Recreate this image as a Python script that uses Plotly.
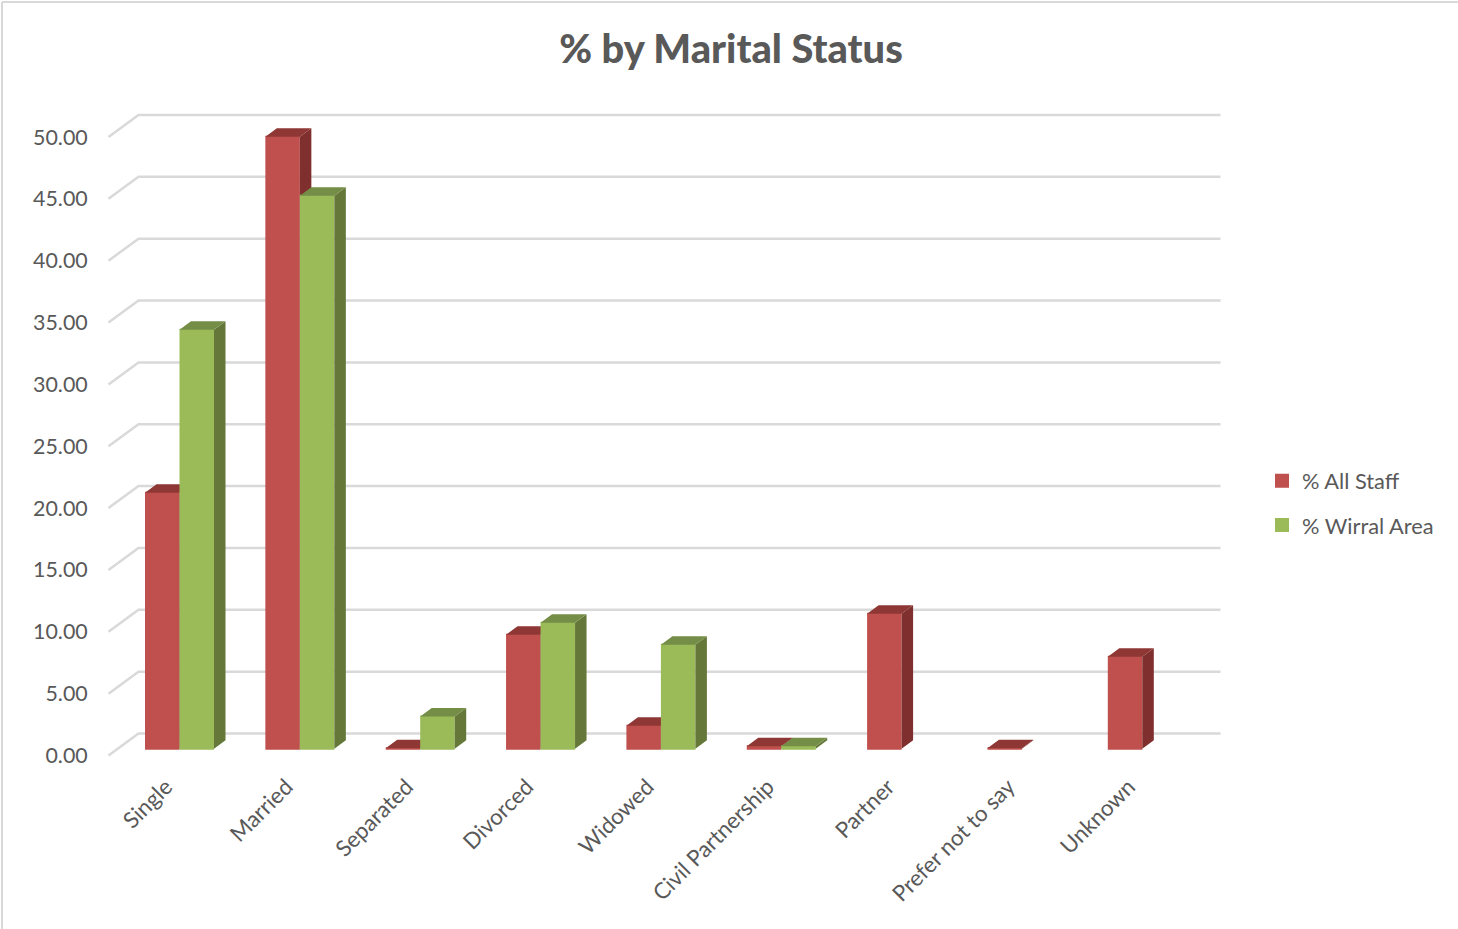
import plotly.graph_objects as go

categories = ["Single", "Married", "Separated", "Divorced", "Widowed",
              "Civil Partnership", "Partner", "Prefer not to say", "Unknown"]
all_staff = [20.75, 49.6, 0.04, 9.24, 1.86, 0.2, 10.94, 0.04, 7.46]
wirral_area = [33.95, 44.8, 2.6, 10.2, 8.43, 0.2, None, None, None]
y_ticks = [0, 5, 10, 15, 20, 25, 30, 35, 40, 45, 50]

W, H = 1458, 929
PL, PR, PT, PB = 100, 1230, 100, 760
X0, XU = 179.5, 120.35
YU_BAR, Y0_BAR = 12.34, 748.7
YU_GRID, Y0_GRID = 12.37, 755.5
BAR_W = 34.5 / XU
LINE_W = 2 / XU
DX, DY = 11.5 / XU, 8.5 / YU_BAR
GRID_DX0, GRID_DX1, GRID_R = -71 / XU, -41 / XU, 1041 / XU
GRID_DY = 22 / YU_GRID
LABEL_SHIFT = -13.5 / XU

RED, RED_SIDE, RED_TOP = "#C0504D", "#7F2F2D", "#8E3735"
GREEN, GREEN_SIDE, GREEN_TOP = "#9BBB59", "#65783A", "#758E47"
GRID = "#D9D9D9"
TEXT = "#595959"
FONT = "Lato"


def faces(values, offset):
    sx, sy, tx, ty = [], [], [], []
    for i, v in enumerate(values):
        if v is None:
            continue
        left = i + offset - BAR_W / 2
        right = i + offset + BAR_W / 2
        sx += [right, right, right + DX, right + DX, right, None]
        sy += [0, v, v + DY, DY, 0, None]
        tx += [left, right, right + DX, left + DX, left, None]
        ty += [v, v, v + DY, v + DY, v, None]
    return sx, sy, tx, ty


fig = go.Figure()

gx, gy = [], []
for t in y_ticks:
    gx += [GRID_DX0, GRID_DX1, GRID_R, None]
    gy += [t, t + GRID_DY, t + GRID_DY, None]
fig.add_trace(go.Scatter(x=gx, y=gy, mode="lines", line=dict(color=GRID, width=2.5),
                         showlegend=False, hoverinfo="skip", yaxis="y"))

for name, values, offset, col, side, top, ax in [
    ("% All Staff", all_staff, -BAR_W / 2, RED, RED_SIDE, RED_TOP, "y2"),
    ("% Wirral Area", wirral_area, BAR_W / 2, GREEN, GREEN_SIDE, GREEN_TOP, "y3"),
]:
    sx, sy, tx, ty = faces(values, offset)
    fig.add_trace(go.Bar(x=[i + offset for i in range(len(categories))], y=values,
                         width=BAR_W - LINE_W, name=name, legendgroup=name,
                         marker=dict(color=col, line=dict(width=2, color=col)), yaxis=ax))
    fig.add_trace(go.Scatter(x=sx, y=sy, mode="lines", fill="toself", fillcolor=side,
                             line=dict(width=0, color=side), showlegend=False,
                             hoverinfo="skip", yaxis=ax))
    fig.add_trace(go.Scatter(x=tx, y=ty, mode="lines", fill="toself", fillcolor=top,
                             line=dict(width=0, color=top), showlegend=False,
                             hoverinfo="skip", yaxis=ax))

dom_y = [1 - PB / H, 1 - PT / H]
bar_range = [(Y0_BAR - PB) / YU_BAR, (Y0_BAR - PT) / YU_BAR]

fig.update_layout(
    width=W, height=H,
    margin=dict(l=0, r=0, t=0, b=0, pad=0, autoexpand=False),
    paper_bgcolor="white", plot_bgcolor="rgba(0,0,0,0)",
    font=dict(family=FONT, color=TEXT),
    barmode="overlay",
    title=dict(text="% by Marital Status", x=731 / W, y=1 - 49 / H,
               xref="paper", yref="paper", xanchor="center", yanchor="middle",
               font=dict(family=FONT, size=39.8, color=TEXT, weight=900)),
    xaxis=dict(domain=[PL / W, PR / W],
               range=[(PL - X0) / XU, (PR - X0) / XU],
               tickmode="array", tickvals=[i + LABEL_SHIFT for i in range(len(categories))],
               ticktext=categories,
               tickangle=-45, tickfont=dict(size=22.3, color=TEXT),
               showgrid=False, zeroline=False, showline=False,
               ticks="outside", ticklen=4, tickcolor="rgba(0,0,0,0)", anchor="y"),
    yaxis=dict(domain=dom_y,
               range=[(Y0_GRID - PB) / YU_GRID, (Y0_GRID - PT) / YU_GRID],
               tickmode="array", tickvals=y_ticks, tickformat=".2f",
               tickfont=dict(size=21.4, color=TEXT),
               showgrid=False, zeroline=False, showline=False,
               ticks="outside", ticklen=7, tickcolor="rgba(0,0,0,0)", anchor="x"),
    yaxis2=dict(domain=dom_y, range=bar_range, overlaying="y", visible=False, anchor="x"),
    yaxis3=dict(domain=dom_y, range=bar_range, overlaying="y", visible=False, anchor="x"),
    legend=dict(x=1262 / W, y=1 - 503 / H, xanchor="left", yanchor="middle",
                font=dict(family=FONT, size=21.8, color=TEXT),
                tracegroupgap=13, bgcolor="rgba(0,0,0,0)"),
    shapes=[
        dict(type="line", xref="paper", yref="paper", x0=2 / W, x1=2 / W, y0=0, y1=1 - 2 / H,
             line=dict(color=GRID, width=2)),
        dict(type="line", xref="paper", yref="paper", x0=2 / W, x1=1, y0=1 - 2 / H, y1=1 - 2 / H,
             line=dict(color=GRID, width=2)),
    ],
)

fig.write_html("out.html", config=dict(displayModeBar=False),
               post_script="document.body.style.margin='0';document.documentElement.style.overflow='hidden';")
